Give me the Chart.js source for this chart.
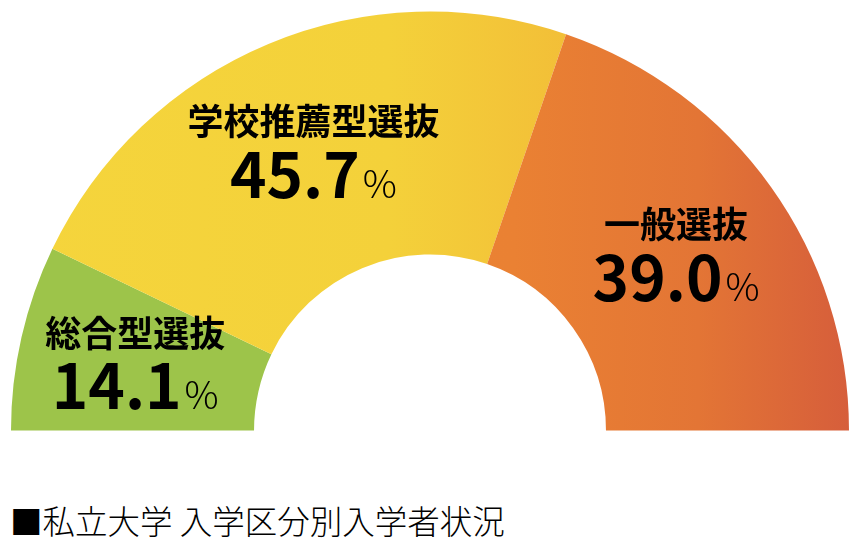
<!DOCTYPE html>
<html lang="ja">
<head>
<meta charset="utf-8">
<script src="https://cdn.jsdelivr.net/npm/chart.js@4/dist/chart.umd.min.js"></script>
<style>
    html, body { margin: 0; padding: 0; background: #fff; }
    .wrap { position: relative; width: 860px; height: 546px; }
    .chart-box { position: absolute; left: 0; top: 0; width: 860px; height: 440px; }
    .caption {
        position: absolute; left: 10px; top: 499px;
        font-family: "Noto Sans CJK JP", sans-serif;
        font-size: 32.5px; font-weight: 300; line-height: 42px; color: #000; white-space: nowrap;
    }
</style>
</head>
<body>
<div class="wrap">
    <div class="chart-box"><canvas id="admissionChart"></canvas></div>
    <div class="caption">■私立大学 入学区分別入学者状況</div>
</div>
<script>
// data
const categories = ['総合型選抜', '学校推薦型選抜', '一般選抜'];
const shares = [14.1, 45.7, 39.0];
const shareLabels = ['14.1', '45.7', '39.0'];

const FONT = '"Noto Sans CJK JP", "Noto Sans", sans-serif';

// horizontal gradients across the chart width, one per slice
function sliceColor(context) {
    const chart = context.chart;
    const area = chart.chartArea;
    const i = context.dataIndex;
    if (!area) {
        return ['#9DC44A', '#F4D23B', '#EA8133'][i];
    }
    if (i === 0) return '#9DC44A';
    const g = chart.ctx.createLinearGradient(area.left, 0, area.right, 0);
    if (i === 1) {
        g.addColorStop(0, '#F5D53C');
        g.addColorStop(0.45, '#F4D13A');
        g.addColorStop(0.72, '#F2BA37');
        g.addColorStop(1, '#F0B036');
    } else {
        g.addColorStop(0, '#EC8833');
        g.addColorStop(0.6, '#EA8133');
        g.addColorStop(0.82, '#E37535');
        g.addColorStop(1, '#D65E3B');
    }
    return g;
}

// labels drawn in the middle of each slice
const sliceLabels = {
    id: 'sliceLabels',
    afterDatasetsDraw(chart) {
        const ctx = chart.ctx;
        const meta = chart.getDatasetMeta(0);
        meta.data.forEach((arc, i) => {
            const p = arc.getProps(['x', 'y', 'startAngle', 'endAngle', 'innerRadius', 'outerRadius'], true);
            const mid = (p.startAngle + p.endAngle) / 2;
            const r = p.innerRadius + (p.outerRadius - p.innerRadius) * 0.52;
            const cx = p.x + Math.cos(mid) * r;
            const cy = p.y + Math.sin(mid) * r;

            ctx.save();
            ctx.fillStyle = '#000';
            ctx.textAlign = 'center';
            ctx.textBaseline = 'middle';
            ctx.font = 'bold 36px ' + FONT;
            ctx.fillText(categories[i], cx, cy - 30);

            ctx.textAlign = 'left';
            ctx.textBaseline = 'alphabetic';
            ctx.font = 'bold 62px ' + FONT;
            const numW = ctx.measureText(shareLabels[i]).width;
            ctx.font = '300 38px ' + FONT;
            const pctW = ctx.measureText('%').width;
            const gap = 3;
            const startX = cx - (numW + gap + pctW) / 2;
            const base = cy + 46;
            ctx.font = 'bold 62px ' + FONT;
            ctx.fillText(shareLabels[i], startX, base);
            ctx.font = '300 38px ' + FONT;
            ctx.fillText('%', startX + numW + gap, base);
            ctx.restore();
        });
    }
};

document.addEventListener('DOMContentLoaded', function() {
    const ctx = document.getElementById('admissionChart').getContext('2d');

    new Chart(ctx, {
        type: 'doughnut',
        data: {
            labels: categories,
            datasets: [{
                data: shares,
                backgroundColor: sliceColor,
                borderWidth: 0,
                hoverOffset: 0
            }]
        },
        options: {
            responsive: true,
            maintainAspectRatio: false,
            animation: false,
            rotation: -90,
            circumference: 180,
            cutout: '42%',
            layout: {
                padding: { left: 11, right: 11, top: 11, bottom: 9 }
            },
            plugins: {
                legend: { display: false },
                tooltip: { enabled: false }
            }
        },
        plugins: [sliceLabels]
    });
});
</script>
</body>
</html>
